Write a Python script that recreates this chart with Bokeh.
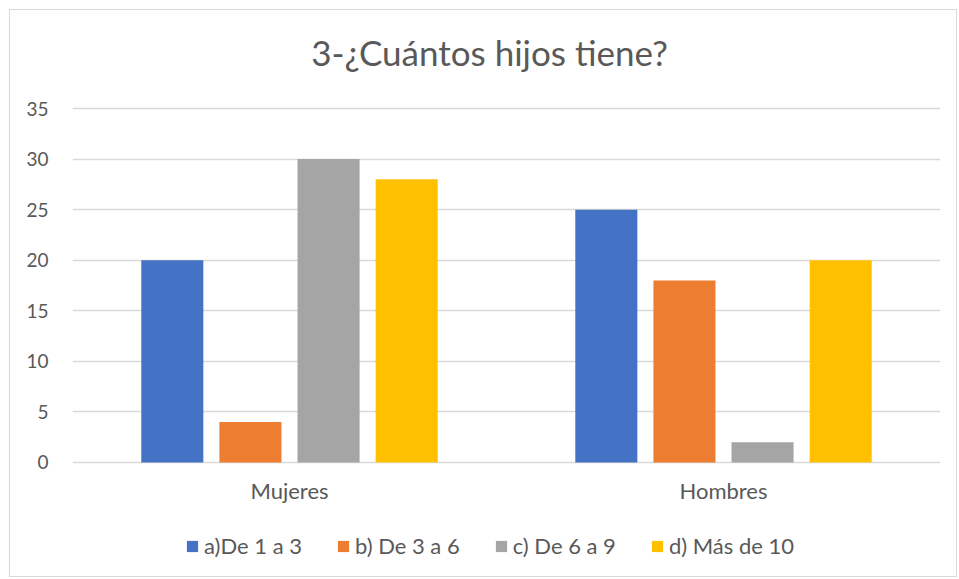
from bokeh.plotting import figure
from bokeh.models import ColumnDataSource, Legend, LegendItem, FactorRange, FixedTicker, Range1d, Label
from bokeh.transform import dodge
from bokeh.embed import file_html
from bokeh.resources import INLINE

categories = ["Mujeres", "Hombres"]
series_names = ["a)De 1 a 3", "b) De 3 a 6", "c) De 6 a 9", "d) Más de 10"]
a_vals = [20, 25]
b_vals = [4, 18]
c_vals = [30, 2]
d_vals = [28, 20]
colors = ["#4472C4", "#ED7D31", "#A5A5A5", "#FFC000"]
y_ticks = [0, 5, 10, 15, 20, 25, 30, 35]
title_text = "3-¿Cuántos hijos tiene?"

FONT = "Lato"
TXT = "#595959"

source = ColumnDataSource(dict(cat=categories, a=a_vals, b=b_vals, c=c_vals, d=d_vals))

# frame spans the full height: room above 35 for the title, below 0 for labels and legend
p = figure(width=948, height=568, x_range=FactorRange(*categories), y_range=Range1d(-11.47, 44.69),
           output_backend="svg", toolbar_location=None,
           min_border_left=62, min_border_right=18, min_border_top=0, min_border_bottom=0)
p.x_range.range_padding = 0
p.styles = {"border": "1px solid #D9D9D9", "margin-left": "9px", "margin-top": "9px"}

offsets = [-0.27, -0.09, 0.09, 0.27]
keys = ["a", "b", "c", "d"]
renderers = []
for k, off, col in zip(keys, offsets, colors):
    r = p.vbar(x=dodge("cat", off, range=p.x_range), top=k, width=0.143, source=source,
               fill_color=col, line_color=None)
    renderers.append(r)

p.outline_line_color = None
p.xgrid.grid_line_color = None
p.ygrid.grid_line_color = "#D9D9D9"
p.ygrid.grid_line_width = 1.3
p.yaxis.ticker = FixedTicker(ticks=y_ticks)

for ax in (p.xaxis[0], p.yaxis[0]):
    ax.axis_line_color = None
    ax.major_tick_line_color = None
    ax.minor_tick_line_color = None
    ax.major_tick_out = 0
    ax.major_label_text_font = FONT
    ax.major_label_text_color = TXT
p.yaxis.major_label_text_font_size = "19px"
p.xaxis.major_label_text_font_size = "22px"
p.yaxis.major_label_standoff = 24
p.xaxis.major_label_standoff = 15
p.xaxis.fixed_location = 0

title = Label(x=417, y=527, x_units="screen", y_units="screen", text=title_text,
              text_align="center", text_baseline="alphabetic", text_font=FONT,
              text_font_size="35px", text_color=TXT)
p.add_layout(title)

legend = Legend(items=[LegendItem(label=n, renderers=[r]) for n, r in zip(series_names, renderers)],
                orientation="horizontal", location=(113, 19))
legend.padding = 0
legend.margin = 0
legend.spacing = 34
legend.glyph_width = 14
legend.glyph_height = 14
legend.label_standoff = 5
legend.label_text_font = FONT
legend.label_text_font_size = "22px"
legend.label_text_color = TXT
legend.border_line_color = None
legend.background_fill_alpha = 0
p.add_layout(legend, "center")

open("out.html", "w").write(file_html(p, INLINE))
